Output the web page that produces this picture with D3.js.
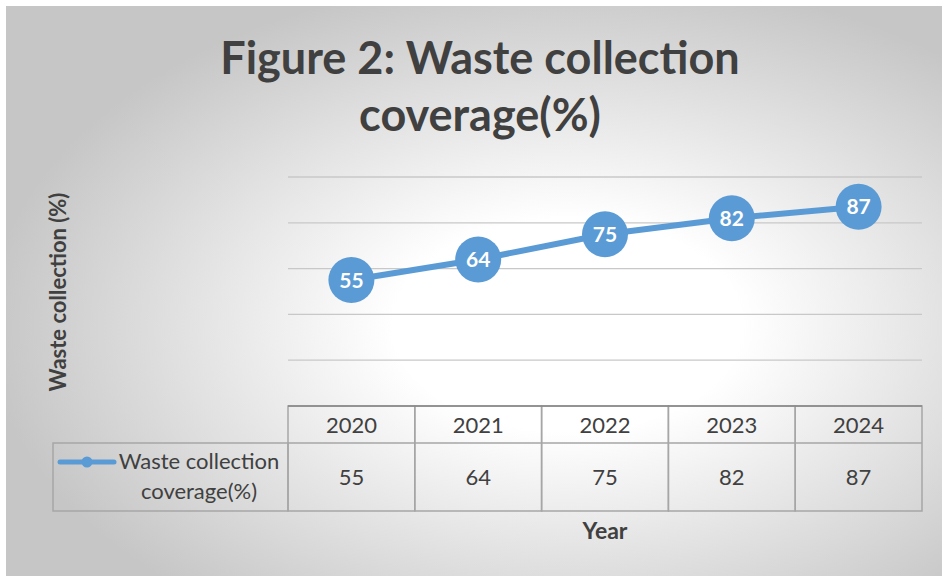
<!DOCTYPE html>
<html>
	<head>
		<meta charset="UTF-8" />
		<title>Waste collection coverage</title>
		<style>
			html, body {
				margin: 0;
				padding: 0;
				overflow: hidden;
				background: #fff;
			}
			svg text {
				font-family: Lato, 'Open Sans', sans-serif;
				fill: #404040;
			}
		</style>
		<script src="https://d3js.org/d3.v7.min.js"></script>
	</head>
	<body>
		<svg></svg>
		<script>
			// chart data
			const years = ['2020', '2021', '2022', '2023', '2024'];
			const coverage = [55, 64, 75, 82, 87];
			const yTicks = [0, 20, 40, 60, 80, 100];
			const seriesName = ['Waste collection', 'coverage(%)'];
			const titleLines = ['Figure 2: Waste collection', 'coverage(%)'];

			const width = 942, height = 576;
			const blue = '#5b9bd5';

			let svg = d3.select('svg')
				.attr('width', width)
				.attr('height', height);

			// radial background like the excel preset
			let defs = svg.append('defs');
			let grad = defs.append('radialGradient')
				.attr('id', 'bg')
				.attr('cx', 0.6).attr('cy', 0.56)
				.attr('r', 0.62);
			grad.append('stop').attr('offset', 0).attr('stop-color', '#ffffff');
			grad.append('stop').attr('offset', 0.3).attr('stop-color', '#ffffff');
			grad.append('stop').attr('offset', 1).attr('stop-color', '#c6c6c6');

			svg.append('rect')
				.attr('x', 6).attr('y', 6)
				.attr('width', width - 6).attr('height', height - 6)
				.attr('fill', 'url(#bg)');

			let x = d3.scaleBand().domain(years).range([288, 922]);
			let y = d3.scaleLinear().domain([0, 100]).range([406, 177]);

			// title
			svg.append('g').selectAll('text')
				.data(titleLines)
				.enter().append('text')
				.attr('x', 480)
				.attr('y', (d, i) => 74 + i * 57)
				.attr('text-anchor', 'middle')
				.style('font-size', '45px')
				.style('font-weight', 'bold')
				.text(d => d);

			// gridlines
			svg.append('g').selectAll('line')
				.data(yTicks.slice(1))
				.enter().append('line')
				.attr('x1', 288).attr('x2', 922)
				.attr('y1', d => y(d)).attr('y2', d => y(d))
				.attr('stroke', '#c8c8c8')
				.attr('stroke-width', 1.3);

			// axis titles
			svg.append('text')
				.attr('transform', 'translate(66,292) rotate(-90)')
				.attr('text-anchor', 'middle')
				.style('font-size', '22px')
				.style('font-weight', 'bold')
				.text('Waste collection (%)');

			svg.append('text')
				.attr('x', 605).attr('y', 539)
				.attr('text-anchor', 'middle')
				.style('font-size', '23px')
				.style('font-weight', 'bold')
				.text('Year');

			// data table
			let table = svg.append('g');
			const rowTop = 406, rowMid = 443, rowBot = 511;
			const tableStroke = '#a6a6a6';

			table.append('rect')
				.attr('x', 53).attr('y', rowMid)
				.attr('width', 288 - 53).attr('height', rowBot - rowMid)
				.attr('fill', 'none').attr('stroke', tableStroke).attr('stroke-width', 1.5);

			table.selectAll('rect.cell')
				.data(years)
				.enter().append('rect')
				.attr('class', 'cell')
				.attr('x', d => x(d)).attr('y', rowTop)
				.attr('width', x.bandwidth()).attr('height', rowBot - rowTop)
				.attr('fill', 'none').attr('stroke', tableStroke).attr('stroke-width', 1.5);

			table.append('line')
				.attr('x1', 288).attr('x2', 922)
				.attr('y1', rowMid).attr('y2', rowMid)
				.attr('stroke', tableStroke).attr('stroke-width', 1.5);

			// axis line on top of the table
			table.append('line')
				.attr('x1', 288).attr('x2', 922)
				.attr('y1', rowTop).attr('y2', rowTop)
				.attr('stroke', '#868686').attr('stroke-width', 1.5);

			table.selectAll('text.year')
				.data(years)
				.enter().append('text')
				.attr('class', 'year')
				.attr('x', d => x(d) + x.bandwidth() / 2)
				.attr('y', 433)
				.attr('text-anchor', 'middle')
				.style('font-size', '22px')
				.text(d => d);

			table.selectAll('text.val')
				.data(coverage)
				.enter().append('text')
				.attr('class', 'val')
				.attr('x', (d, i) => x(years[i]) + x.bandwidth() / 2)
				.attr('y', 485)
				.attr('text-anchor', 'middle')
				.style('font-size', '22px')
				.text(d => d);

			// legend key inside the table
			table.append('line')
				.attr('x1', 60).attr('x2', 114)
				.attr('y1', 462).attr('y2', 462)
				.attr('stroke', blue).attr('stroke-width', 5)
				.attr('stroke-linecap', 'round');
			table.append('circle')
				.attr('cx', 87).attr('cy', 462).attr('r', 5.5)
				.attr('fill', blue);
			table.selectAll('text.leg')
				.data(seriesName)
				.enter().append('text')
				.attr('class', 'leg')
				.attr('x', 199)
				.attr('y', (d, i) => 469 + i * 30)
				.attr('text-anchor', 'middle')
				.style('font-size', '22px')
				.text(d => d);

			// series line
			let pts = coverage.map((v, i) => [x(years[i]) + x.bandwidth() / 2, y(v)]);
			svg.append('path')
				.attr('d', d3.line()(pts))
				.attr('fill', 'none')
				.attr('stroke', blue)
				.attr('stroke-width', 6)
				.attr('stroke-linejoin', 'round');

			let marks = svg.append('g').selectAll('g')
				.data(coverage)
				.enter().append('g')
				.attr('transform', (d, i) => `translate(${pts[i][0]},${pts[i][1]})`);

			marks.append('circle')
				.attr('r', 23)
				.attr('fill', blue);

			marks.append('text')
				.attr('text-anchor', 'middle')
				.attr('dy', '0.36em')
				.style('font-size', '21px')
				.style('font-weight', 'bold')
				.style('fill', '#fff')
				.text(d => d);
		</script>
	</body>
</html>
